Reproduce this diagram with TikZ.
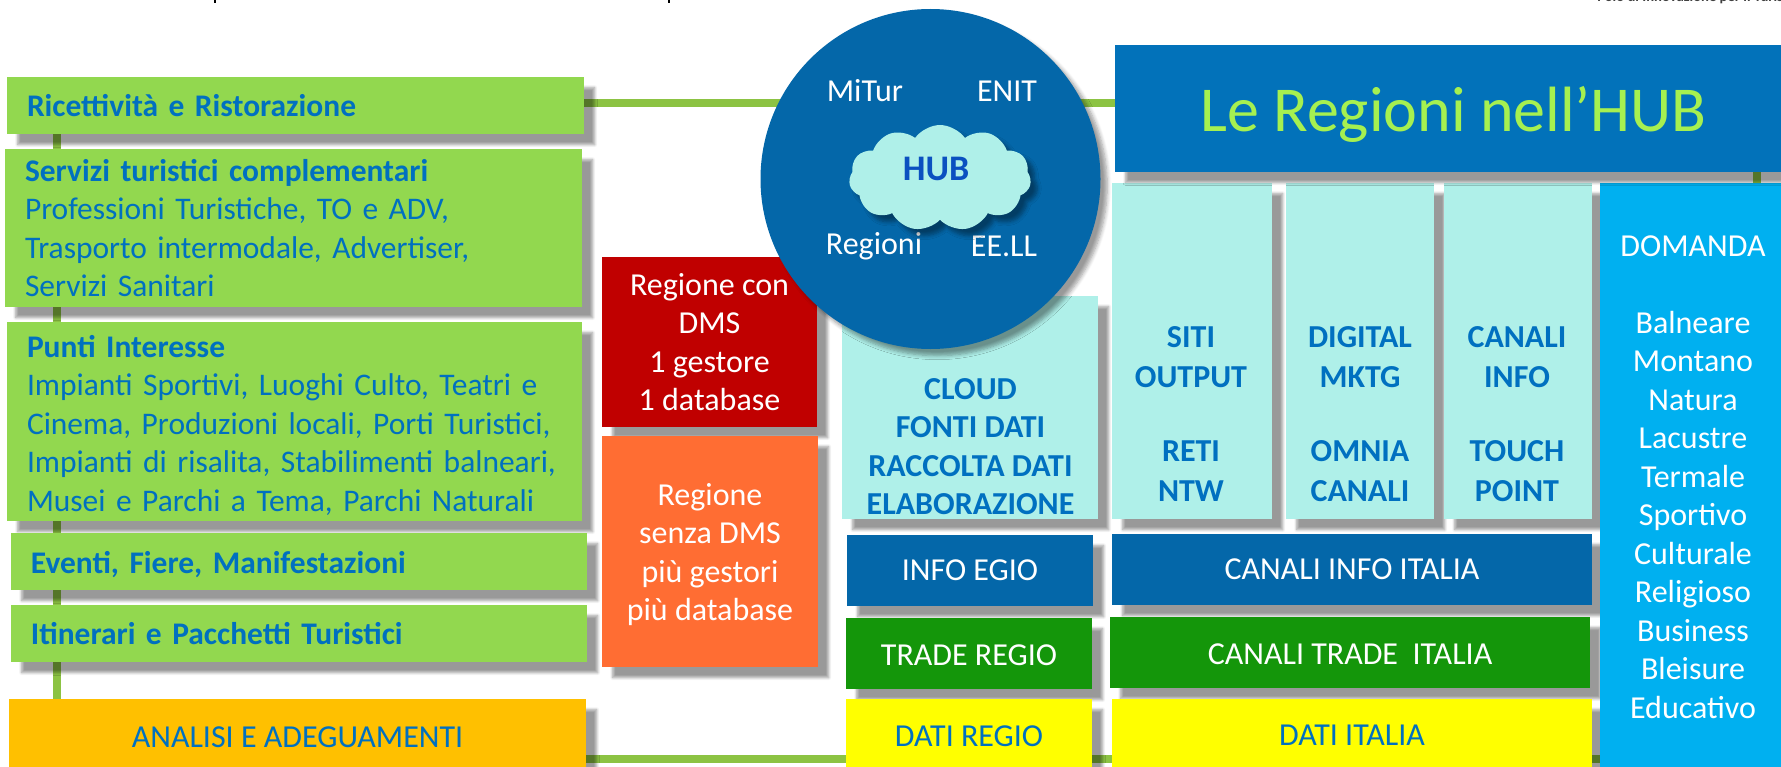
\documentclass[tikz,border=0pt]{standalone}
\usepackage{fontspec}
\usepackage{tikz}
\usetikzlibrary{shapes.symbols,shadows.blur,backgrounds}
\setmainfont{Carlito}
\newfontfamily\tightfont[WordSpace=0.7]{Carlito}
\definecolor{leafgreen}{HTML}{92D84F}
\definecolor{railgreen}{HTML}{8CC343}
\definecolor{hubblue}{HTML}{0467A9}
\definecolor{headblue}{HTML}{0272BA}
\definecolor{textblue}{HTML}{0070C0}
\definecolor{aqua}{HTML}{AFF0E9}
\definecolor{skyblue}{HTML}{00B0F0}
\definecolor{tradegreen}{HTML}{14960A}
\definecolor{orangebox}{HTML}{FF6D33}
\definecolor{amber}{HTML}{FFC000}
\definecolor{darkred}{HTML}{C00000}
\definecolor{datiyellow}{RGB}{255,255,0}
\definecolor{headtext}{HTML}{A6F050}
\definecolor{hubtext}{HTML}{0A50C0}
\newcommand{\bodyfont}{\fontsize{24}{28.9}\selectfont}
\newcommand{\leftfont}{\fontsize{23.6}{28.9}\selectfont\tightfont}
\tikzset{
  softshadow/.style={blur shadow={shadow xshift=8pt,shadow yshift=-8pt,shadow blur radius=2pt,shadow blur steps=6,shadow opacity=40}},
  roundshadow/.style={blur shadow={shadow xshift=5pt,shadow yshift=-5pt,shadow blur radius=3pt,shadow blur steps=6,shadow opacity=40}},
  panel/.style 2 args={rectangle,minimum width=#1*0.75pt,minimum height=#2*0.75pt,inner sep=0pt,align=center,font=\bodyfont,softshadow},
  leftbox/.style 2 args={panel={#1}{#2},fill=leafgreen,text=textblue,text width=(#1-40)*0.75pt,align=left,font=\leftfont},
  aquabox/.style 2 args={panel={#1}{#2},fill=aqua},
  plaintext/.style={inner sep=0pt,align=center,font=\bodyfont},
  aquatext/.style={plaintext,text=textblue,font=\fontsize{24}{30}\selectfont\bfseries},
  hublabel/.style={plaintext,text=white},
  link/.style={railgreen,line width=6pt}
}
\begin{document}
\begin{tikzpicture}[x=0.75pt,y=-0.75pt]
    \useasboundingbox (0,0) rectangle (1781,767);

    \coordinate (toprail) at (0,103);
    \coordinate (bottomrail) at (0,759);
    \coordinate (leftrail) at (57,0);
    \coordinate (rightrail) at (1757,0);

    \fill[black] (214,0) rectangle (216,3);
    \fill[black] (668,0) rectangle (670,3);
    \node[inner sep=0pt,anchor=base west,font=\fontsize{11}{13}\selectfont\bfseries,text=black!75] (polo) at (1597,1.5) {Polo di Innovazione per il Turismo};

    \node[leftbox={577}{57},font=\leftfont\bfseries] (ricettivita) at (295.5,105.5) {Ricettività e Ristorazione};
    \node[leftbox={577}{158}] (servizi) at (293.5,228) {\textbf{Servizi turistici complementari}\\Professioni Turistiche, TO e ADV,\\Trasporto intermodale, Advertiser,\\Servizi Sanitari};
    \node[leftbox={575}{199}] (punti) at (294.5,421.5) {\textbf{\rule{0pt}{22pt}Punti Interesse}\\Impianti Sportivi, Luoghi Culto, Teatri e\\Cinema, Produzioni locali, Porti Turistici,\\Impianti di risalita, Stabilimenti balneari,\\Musei e Parchi a Tema, Parchi Naturali};
    \node[leftbox={576}{57},font=\leftfont\bfseries,text height=20.5pt] (eventi) at (299,561.5) {Eventi, Fiere, Manifestazioni};
    \node[leftbox={576}{57},font=\leftfont\bfseries] (itinerari) at (299,633.5) {Itinerari e Pacchetti Turistici};
    \node[panel={577}{76},fill=amber,text=textblue] (analisi) at (297.5,737) {ANALISI E ADEGUAMENTI};

    \node[panel={215}{170},fill=darkred,text=white] (dmscon) at (709.5,342) {Regione con\\DMS\\1 gestore\\1 database};
    \node[panel={216}{231},fill=orangebox] (dmssenza) at (710,551.5) {};
    \node[hublabel] (dmssenzatext) at (710,554.5) {Regione\\senza DMS\\più gestori\\più database};

    \node[aquabox={256}{223}] (cloudbox) at (970,407.5) {};
    \node[aquatext,font=\bodyfont\bfseries] (cloudtext) at (970.5,446.5) {CLOUD\\FONTI DATI\\RACCOLTA DATI\\ELABORAZIONE};
    \node[aquabox={160}{336}] (siti) at (1192,351) {};
    \node[aquatext] (sititext) at (1191,414) {SITI\\OUTPUT\\[25.5pt]RETI\\NTW};
    \node[aquabox={148}{336}] (digital) at (1360,351) {};
    \node[aquatext] (digitaltext) at (1360,414) {DIGITAL\\MKTG\\[25.5pt]OMNIA\\CANALI};
    \node[aquabox={148}{336}] (canali) at (1518,351) {};
    \node[aquatext] (canalitext) at (1517,414) {CANALI\\INFO\\[25.5pt]TOUCH\\POINT};

    \node[panel={246}{71},fill=hubblue,text=white] (infoegio) at (970,570.5) {INFO EGIO};
    \node[panel={480}{71},fill=hubblue,text=white] (infoitalia) at (1352,569.5) {CANALI INFO ITALIA};
    \node[panel={246}{71},fill=tradegreen,text=white,text height=18.5pt] (traderegio) at (969,653.5) {TRADE REGIO};
    \node[panel={480}{71},fill=tradegreen,text=white,text height=18.5pt] (tradeitalia) at (1350,652.5) {CANALI TRADE\ \ ITALIA};
    \node[panel={246}{74},fill=datiyellow,text=textblue] (datiregio) at (969,736) {DATI REGIO};
    \node[panel={480}{72},fill=datiyellow,text=textblue] (datiitalia) at (1352,735) {DATI ITALIA};

    \node[panel={186}{588},fill=skyblue,text=white] (domanda) at (1693,477) {DOMANDA\\~\\Balneare\\Montano\\Natura\\Lacustre\\Termale\\Sportivo\\Culturale\\Religioso\\Business\\Bleisure\\Educativo};

    \node[panel={677}{127},fill=headblue,text=headtext,font=\fontsize{48}{56}\selectfont,text height=42pt] (header) at (1453.5,108.5) {Le Regioni nell’HUB};

    \node[circle,minimum size=340*0.75pt,inner sep=0pt,fill=hubblue,roundshadow] (hub) at (930.5,179) {};
    \node[hublabel] (mitur) at (865,91) {MiTur};
    \node[hublabel] (enit) at (1007,91) {ENIT};
    \node[hublabel] (regioni) at (874,246) {Regioni};
    \node[hublabel] (eell) at (1004,246) {EE.LL};
    \node[cloud,cloud puffs=11,cloud puff arc=110,aspect=1.75,minimum width=182*0.75pt,minimum height=106*0.75pt,inner sep=0pt,fill=aqua,roundshadow] (cloudhub) at (940,178) {};
    \node[plaintext,text=hubtext,font=\fontsize{27}{30}\selectfont\bfseries] (hubname) at (936,169) {HUB};

    \begin{pgfonlayer}{background}
    \draw[link] (ricettivita.east |- toprail) -- (header.west |- toprail);
    \draw[link] (leftrail |- ricettivita.south) -- (leftrail |- analisi.north);
    \draw[link] (analisi.east |- bottomrail) -- (domanda.west |- bottomrail);
    \draw[link] (rightrail |- header.south) -- (rightrail |- domanda.north);
    \end{pgfonlayer}

\end{tikzpicture}
\end{document}
